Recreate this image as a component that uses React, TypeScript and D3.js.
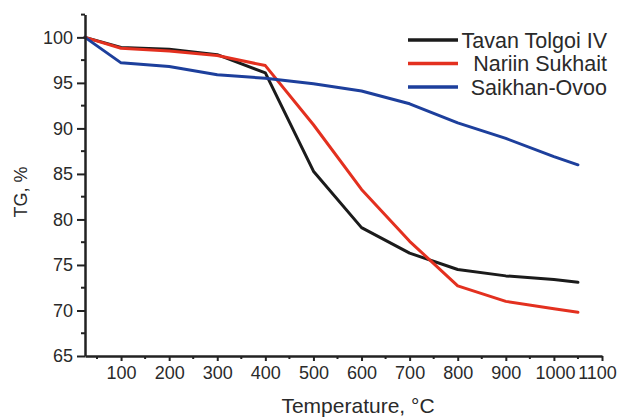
import React, { useEffect, useRef } from "react";
import * as d3 from "d3";

const temps = [25, 100, 200, 300, 400, 500, 600, 700, 800, 900, 1000, 1050];
const tavanTolgoi = [100, 98.9, 98.7, 98.1, 96.1, 85.3, 79.1, 76.3, 74.5, 73.8, 73.4, 73.1];
const nariinSukhait = [100, 98.8, 98.5, 98.0, 96.9, 90.4, 83.3, 77.6, 72.7, 71.0, 70.2, 69.8];
const saikhanOvoo = [100, 97.2, 96.8, 95.9, 95.5, 94.9, 94.1, 92.7, 90.6, 88.9, 86.9, 86.0];

const seriesNames = ["Tavan Tolgoi IV", "Nariin Sukhait", "Saikhan-Ovoo"];
const seriesColors = ["#1b1b1b", "#e3301f", "#1d3f9c"];

const xMajor = [100, 200, 300, 400, 500, 600, 700, 800, 900, 1000, 1100];
const xMinor = [50, 150, 250, 350, 450, 550, 650, 750, 850, 950, 1050];
const yMajor = [65, 70, 75, 80, 85, 90, 95, 100];
const yMinor = [67.5, 72.5, 77.5, 82.5, 87.5, 92.5, 97.5, 102.5];

const W = 620;
const H = 418;
const font = "'Liberation Sans', Arial, sans-serif";

const App = () => {
  const svgRef = useRef<SVGSVGElement>(null);

  useEffect(() => {
    const svg = d3.select(svgRef.current);
    svg.selectAll("*").remove();

    const x = d3.scaleLinear().domain([25, 1100]).range([85, 602]);
    const y = d3.scaleLinear().domain([65, 102.5]).range([356, 14.6]);
    const axisColor = "#222";

    // series lines
    const line = d3
      .line<number>()
      .x((d, i) => x(temps[i]))
      .y((d) => y(d));

    [tavanTolgoi, nariinSukhait, saikhanOvoo].forEach((vals, k) => {
      svg
        .append("path")
        .datum(vals)
        .attr("d", line)
        .attr("fill", "none")
        .attr("stroke", seriesColors[k])
        .attr("stroke-width", 3)
        .attr("stroke-linejoin", "round")
        .attr("stroke-linecap", "round");
    });

    // y axis
    const gy = svg.append("g").attr("transform", `translate(${x(25)},0)`);
    gy.call(
      d3.axisLeft(y).tickValues(yMajor).tickSize(8).tickSizeOuter(0).tickFormat(d3.format("d"))
    );
    gy.select(".domain").attr("stroke", axisColor).attr("stroke-width", 2.5);
    gy.selectAll(".tick line").attr("stroke", axisColor).attr("stroke-width", 2);
    gy.selectAll(".tick text")
      .attr("font-family", font)
      .attr("font-size", 18)
      .attr("fill", "#2a2a2a")
      .attr("x", -12);
    gy.selectAll(".minor")
      .data(yMinor)
      .join("line")
      .attr("x1", -4)
      .attr("x2", 0)
      .attr("y1", (d) => y(d))
      .attr("y2", (d) => y(d))
      .attr("stroke", axisColor)
      .attr("stroke-width", 2);

    // x axis
    const gx = svg.append("g").attr("transform", `translate(0,${y(65)})`);
    gx.call(
      d3.axisBottom(x).tickValues(xMajor).tickSize(5).tickSizeOuter(0).tickFormat(d3.format("d"))
    );
    gx.select(".domain").attr("stroke", axisColor).attr("stroke-width", 2.5);
    gx.selectAll(".tick line").attr("stroke", axisColor).attr("stroke-width", 2);
    gx.selectAll(".tick text")
      .attr("font-family", font)
      .attr("font-size", 18)
      .attr("fill", "#2a2a2a")
      .attr("y", 10)
      .attr("dx", (d: any) => (d === 1100 ? -5 : d === 1000 ? 1 : 0));
    gx.selectAll(".minor")
      .data(xMinor)
      .join("line")
      .attr("x1", (d) => x(d))
      .attr("x2", (d) => x(d))
      .attr("y1", 0)
      .attr("y2", 3)
      .attr("stroke", axisColor)
      .attr("stroke-width", 2);

    // axis titles
    svg
      .append("text")
      .attr("x", 358)
      .attr("y", 413)
      .attr("text-anchor", "middle")
      .attr("font-family", font)
      .attr("font-size", 21)
      .attr("fill", "#2a2a2a")
      .text("Temperature, °C");

    svg
      .append("text")
      .attr("transform", "translate(27,192) rotate(-90)")
      .attr("text-anchor", "middle")
      .attr("font-family", font)
      .attr("font-size", 18)
      .attr("fill", "#2a2a2a")
      .text("TG, %");

    // legend
    const legend = svg
      .append("g")
      .selectAll("g")
      .data(seriesNames)
      .join("g")
      .attr("transform", (d, i) => `translate(0,${40 + i * 23.5})`);
    legend
      .append("line")
      .attr("x1", 408)
      .attr("x2", 458)
      .attr("stroke", (d, i) => seriesColors[i])
      .attr("stroke-width", 3.5);
    legend
      .append("text")
      .attr("x", 607)
      .attr("dy", "0.35em")
      .attr("text-anchor", "end")
      .attr("font-family", font)
      .attr("font-size", 21.5)
      .attr("fill", "#2a2a2a")
      .text((d) => d);
  }, []);

  return (
    <svg
      ref={svgRef}
      width={W}
      height={H}
      style={{ position: "absolute", left: 0, top: 0, background: "#fff" }}
    />
  );
};

export default App;
